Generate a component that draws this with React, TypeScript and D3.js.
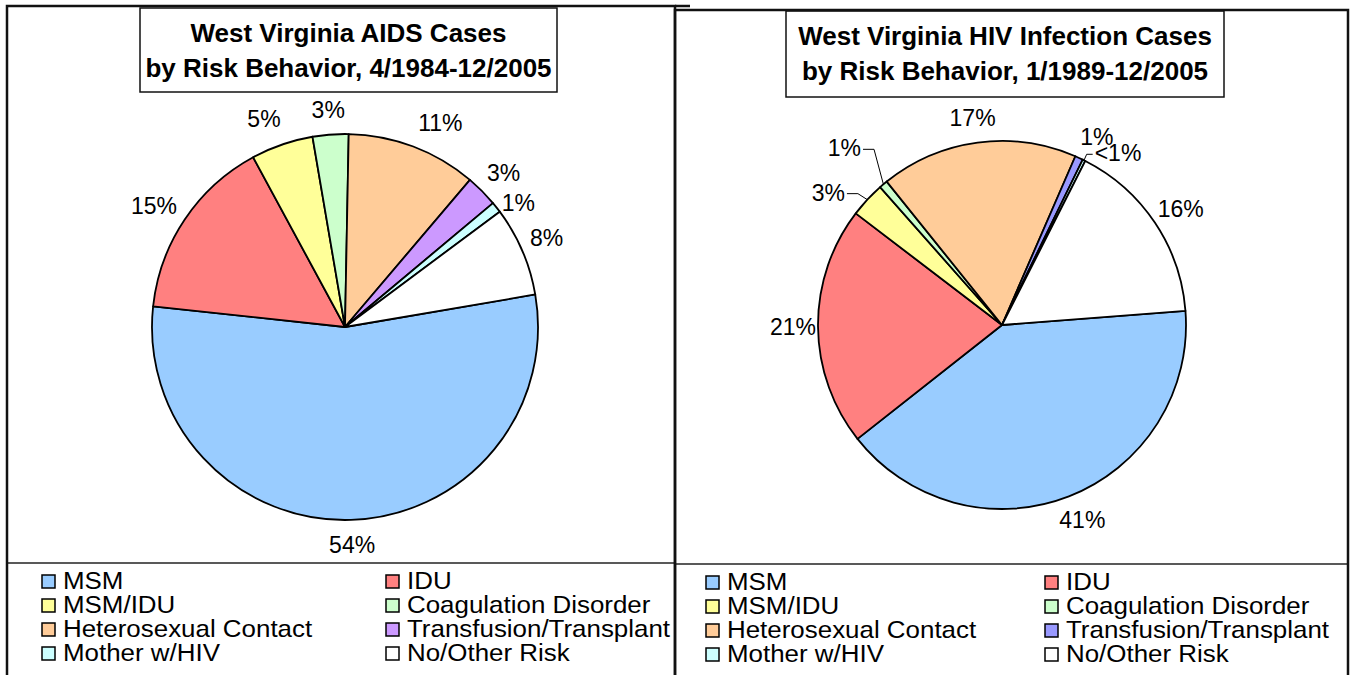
import { useEffect } from 'react'
import * as d3 from 'd3'

const categories = [
  'MSM',
  'IDU',
  'MSM/IDU',
  'Coagulation Disorder',
  'Heterosexual Contact',
  'Transfusion/Transplant',
  'Mother w/HIV',
  'No/Other Risk',
]

// percent of cases
const aidsShares = [54.4, 15.4, 5.2, 3.0, 10.9, 2.7, 0.9, 7.5]
const aidsLabels = ['54%', '15%', '5%', '3%', '11%', '3%', '1%', '8%']
const hivShares = [40.6, 21.0, 3.1, 0.75, 17.3, 0.7, 0.25, 16.3]
const hivLabels = ['41%', '21%', '3%', '1%', '17%', '1%', '<1%', '16%']

const aidsColors = ['#99ccff', '#ff8080', '#ffff99', '#ccffcc', '#ffcc99', '#cc99ff', '#ccffff', '#ffffff']
const hivColors = ['#99ccff', '#ff8080', '#ffff99', '#ccffcc', '#ffcc99', '#9999ff', '#ccffff', '#ffffff']

const FONT = '"Liberation Sans", Arial, sans-serif'
const LABEL_SIZE = 23

// rough Arial advance widths (em)
function textWidth(s: string, size: number) {
  let w = 0
  for (const c of s) {
    if (c === '%') w += 0.889
    else if (c === '<') w += 0.584
    else w += 0.556
  }
  return w * size
}

type Offset = { index: number; dx: number; dy: number }

type PanelProps = {
  x0: number
  x1: number
  top: number
  legendTop: number
  titleBox: [number, number, number, number]
  title: [string, string]
  cx: number
  cy: number
  r: number
  startDeg: number
  shares: number[]
  labels: string[]
  colors: string[]
  leaders: Offset[]
  nudges: Offset[]
  legendCols: [number, number]
}

function Panel(p: PanelProps) {
  const start = (p.startDeg * Math.PI) / 180
  const pie = d3
    .pie<number>()
    .sort(null)
    .value((d) => d)
    .startAngle(start)
    .endAngle(start + 2 * Math.PI)
  const arcs = pie(p.shares)
  const arc = d3.arc<d3.PieArcDatum<number>>().innerRadius(0).outerRadius(p.r)

  const [bx0, by0, bx1, by1] = p.titleBox
  const tcx = (bx0 + bx1) / 2

  const rowY = [0, 1, 2, 3].map((i) => p.legendTop + 17 + i * 24)

  return (
    <g>
      {/* title */}
      <rect x={bx0} y={by0} width={bx1 - bx0} height={by1 - by0} fill="#fff" stroke="#111" strokeWidth={1.5} />
      <text x={tcx} y={by0 + 34} textAnchor="middle" fontFamily={FONT} fontWeight="bold" fontSize={26} fill="#000">
        {p.title[0]}
      </text>
      <text x={tcx} y={by0 + 69} textAnchor="middle" fontFamily={FONT} fontWeight="bold" fontSize={26} fill="#000">
        {p.title[1]}
      </text>

      {/* slices */}
      <g transform={`translate(${p.cx},${p.cy})`}>
        {arcs.map((a, i) => (
          <path key={i} d={arc(a) || ''} fill={p.colors[i]} stroke="#000" strokeWidth={1.8} strokeLinejoin="round" />
        ))}
      </g>

      {/* labels */}
      {arcs.map((a, i) => {
        const mid = (a.startAngle + a.endAngle) / 2
        const s = Math.sin(mid)
        const c = Math.cos(mid)
        const w = textWidth(p.labels[i], LABEL_SIZE)
        const leader = p.leaders.find((l) => l.index === i)
        if (leader) {
          const ex = p.cx + s * p.r
          const ey = p.cy - c * p.r
          const lx = ex + leader.dx
          const ly = ey + leader.dy
          const left = leader.dx < 0
          const tx = left ? lx + w / 2 + 2 : lx - w / 2 - 2
          const elbow = left ? tx + 11 : tx - 6
          return (
            <g key={i}>
              <path
                d={`M${tx},${ly + 1}L${elbow},${ly + 1}L${ex},${ey}`}
                fill="none"
                stroke="#000"
                strokeWidth={1}
              />
              <text x={lx} y={ly} dy="0.35em" textAnchor="middle" fontFamily={FONT} fontSize={LABEL_SIZE} fill="#000">
                {p.labels[i]}
              </text>
            </g>
          )
        }
        const nudge = p.nudges.find((n) => n.index === i)
        const R = p.r + 14
        const x = p.cx + s * R + (s * w) / 2 + (nudge ? nudge.dx : 0)
        const y = p.cy - c * R - c * 11 + (nudge ? nudge.dy : 0)
        return (
          <text key={i} x={x} y={y} dy="0.35em" textAnchor="middle" fontFamily={FONT} fontSize={LABEL_SIZE} fill="#000">
            {p.labels[i]}
          </text>
        )
      })}

      {/* legend */}
      <line x1={p.x0} x2={p.x1} y1={p.legendTop} y2={p.legendTop} stroke="#222" strokeWidth={1.5} />
      {categories.map((name, i) => {
        const col = i % 2
        const row = Math.floor(i / 2)
        const sx = p.legendCols[col]
        const y = rowY[row]
        return (
          <g key={name}>
            <rect x={sx} y={y - 5} width={13} height={13} fill={p.colors[i]} stroke="#000" strokeWidth={1.5} />
            <text
              transform={`translate(${sx + 21},${y}) scale(1.08,1)`}
              dy="0.36em"
              fontFamily={FONT}
              fontSize={24}
              fill="#000"
            >
              {name}
            </text>
          </g>
        )
      })}

      {/* frame */}
      <path
        d={`M${p.x0},675V${p.top}H${p.x1}V675`}
        fill="none"
        stroke="#111"
        strokeWidth={2.5}
      />
    </g>
  )
}

export default function App() {
  useEffect(() => {
    document.body.style.margin = '0'
  }, [])

  return (
    <svg width={1352} height={675} style={{ display: 'block', background: '#fff' }}>
      <Panel
        x0={7}
        x1={675}
        top={6}
        legendTop={563}
        titleBox={[140, 8, 557, 92]}
        title={['West Virginia AIDS Cases', 'by Risk Behavior, 4/1984-12/2005']}
        cx={345}
        cy={327}
        r={193}
        startDeg={80.3}
        shares={aidsShares}
        labels={aidsLabels}
        colors={aidsColors}
        leaders={[]}
        nudges={[
          { index: 2, dx: -8, dy: -2 },
          { index: 4, dx: 14, dy: 0 },
          { index: 6, dx: -2, dy: 11 },
          { index: 7, dx: -4, dy: -3 },
        ]}
        legendCols={[42, 386]}
      />
      <Panel
        x0={675}
        x1={1348}
        top={10}
        legendTop={564}
        titleBox={[786, 11, 1224, 97]}
        title={['West Virginia HIV Infection Cases', 'by Risk Behavior, 1/1989-12/2005']}
        cx={1002}
        cy={325}
        r={184}
        startDeg={85.6}
        shares={hivShares}
        labels={hivLabels}
        colors={hivColors}
        leaders={[
          { index: 2, dx: -39, dy: -7 },
          { index: 3, dx: -39, dy: -36 },
          { index: 6, dx: 34, dy: -7 },
        ]}
        nudges={[
          { index: 1, dx: 12, dy: 0 },
          { index: 5, dx: 5, dy: 2 },
          { index: 7, dx: -5, dy: 0 },
        ]}
        legendCols={[706, 1045]}
      />
      {/* left frame top edge runs a little past the divider */}
      <line x1={675} x2={690} y1={6} y2={6} stroke="#111" strokeWidth={2.5} />
    </svg>
  )
}
